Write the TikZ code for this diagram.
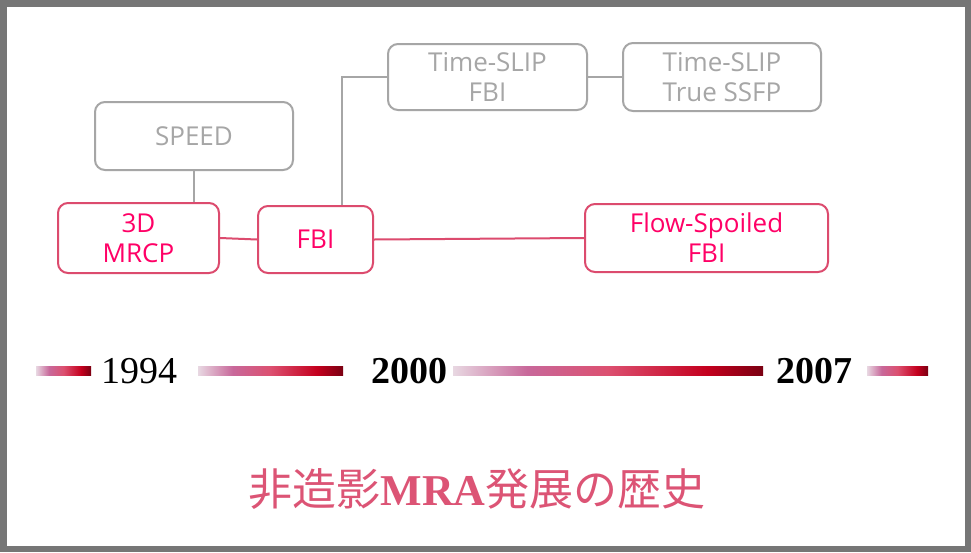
\documentclass[tikz,border=0pt]{standalone}
\usepackage{fontspec}
\usepackage{xcolor}
\usepackage{tikz}
\usetikzlibrary{positioning,calc}
\setmainfont{Liberation Serif}
\newfontfamily\boxfont{Open Sans}
\newfontfamily\cjk{Noto Sans CJK JP}

\definecolor{framegray}{HTML}{767676}
\definecolor{oldgray}{HTML}{A6A6A6}
\definecolor{newpink}{HTML}{FF0066}
\definecolor{edgepink}{HTML}{DC4B6E}
\definecolor{titlepink}{HTML}{DC5475}
\definecolor{barA}{HTML}{E8D8E2}
\definecolor{barB}{HTML}{C8689A}
\definecolor{barC}{HTML}{DC5070}
\definecolor{barD}{HTML}{C4001E}
\definecolor{barE}{HTML}{7A0012}

\pgfdeclarehorizontalshading{barshade}{100bp}{color(0bp)=(barA); color(25bp)=(barA); color(37bp)=(barB); color(50bp)=(barC); color(66bp)=(barD); color(75bp)=(barE); color(100bp)=(barE)}

\tikzset{
  basebox/.style={draw, line width=2pt, rounded corners=10pt, align=center,
    font=\boxfont\fontsize{26}{30}\selectfont, inner sep=0pt},
  oldbox/.style={basebox, draw=oldgray, text=oldgray},
  newbox/.style={basebox, draw=edgepink, text=newpink},
  oldline/.style={draw=oldgray, line width=2pt},
  newline/.style={draw=edgepink, line width=2pt},
  year/.style={anchor=base, font=\fontsize{38}{40}\selectfont},
  bar/.style={shading=barshade}
}

\begin{document}
\begin{tikzpicture}[x=1pt,y=-1pt]
  \useasboundingbox (0,0) rectangle (971,552);
  \fill[white] (0,0) rectangle (971,552);
  \draw[framegray, line width=6.5pt] (3.25,3.25) rectangle (967.75,548.75);

  \node[oldbox, minimum width=198pt, minimum height=68pt] (speed) at (194,136) {SPEED};
  \node[newbox, minimum width=161pt, minimum height=70pt] (mrcp) at (138.5,238) {3D\\MRCP};
  \node[newbox, minimum width=115pt, minimum height=67pt] (fbi) at (315.5,239.5) {FBI};
  \node[oldbox, minimum width=199pt, minimum height=66pt] (tsfbi) at (487.5,77) {Time-SLIP\\FBI};
  \node[oldbox, minimum width=198pt, minimum height=68pt] (tsssfp) at (722,77) {Time-SLIP\\True SSFP};
  \node[newbox, minimum width=243pt, minimum height=68pt] (fsfbi) at (706.5,238) {Flow-Spoiled\\FBI};

  \draw[oldline] (speed.south) -- (speed.south |- mrcp.north);
  \draw[newline] (mrcp.east) -- (fbi.west);
  \draw[oldline] ([xshift=26.5pt]fbi.north) |- (tsfbi.west);
  \draw[oldline] (tsfbi.east) -- (tsssfp.west);
  \draw[newline] (fbi.east) -- (fsfbi.west);

  \shade[bar] (36,366) rectangle (91,375);
  \shade[bar] (198,366) rectangle (343,375);
  \shade[bar] (453,366) rectangle (763,375);
  \shade[bar] (867,366) rectangle (928,375);
  \node[year] (y1994) at (139.5,383) {1994};
  \node[year] (y2000) at (409,383) {\textbf{2000}};
  \node[year] (y2007) at (814.5,383) {\textbf{2007}};

  \node[text=titlepink, font=\fontsize{44}{48}\selectfont] (title) at (477,489)
    {{\cjk 非造影}\textbf{MRA}{\cjk 発展の歴史}};
\end{tikzpicture}
\end{document}
